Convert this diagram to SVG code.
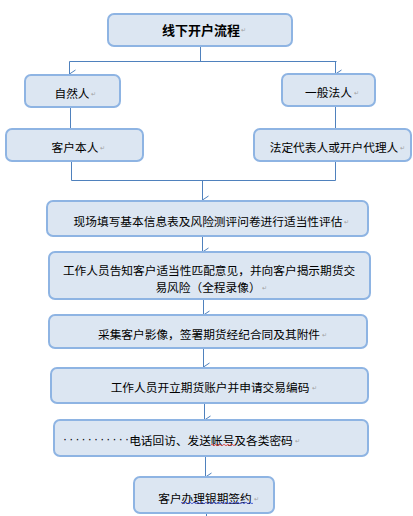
<svg xmlns="http://www.w3.org/2000/svg" width="413" height="516" viewBox="0 0 413 516">
<defs>
<style>
.box{fill:#DCE6F2;stroke:#8EB4E3;stroke-width:2}
.t{font-family:"Noto Sans CJK SC","Liberation Sans",sans-serif;font-size:11.7px;fill:#000;text-anchor:middle;dominant-baseline:central}
.b{font-weight:bold;font-size:13px}
.pm{font-family:"Liberation Sans",sans-serif;font-size:6px;fill:#A0A0A0}
.dots{font-family:"Liberation Sans",sans-serif;font-size:12px;fill:#000;letter-spacing:2.2px}
.c{fill:none;stroke:#4F81BD;stroke-width:1}
</style>
<marker id="ah" markerWidth="10" markerHeight="10" refX="5" refY="7" orient="auto-start-reverse" markerUnits="userSpaceOnUse" viewBox="0 0 10 10">
<polyline points="1,1 5,7 9,1" fill="none" stroke="#4F81BD" stroke-width="1"/>
</marker>
</defs>
<rect width="413" height="516" fill="#fff"/>
<g id="connectors">
<path class="c" d="M200.5,46 V61.5"/>
<path class="c" d="M69.5,61.5 H336.5"/>
<path class="c" d="M69.5,61.5 V74" marker-end="url(#ah)"/>
<path class="c" d="M335.5,61.5 V74" marker-end="url(#ah)"/>
<path class="c" d="M70.5,107 V129"/>
<path class="c" d="M335.5,106 V129"/>
<path class="c" d="M71.5,161 V180.5"/>
<path class="c" d="M335.5,161 V180.5"/>
<path class="c" d="M71.5,180.5 H335.5"/>
<path class="c" d="M202.5,180.5 V200" marker-end="url(#ah)"/>
<path class="c" d="M202.5,236 V252" marker-end="url(#ah)"/>
<path class="c" d="M203.5,299 V315" marker-end="url(#ah)"/>
<path class="c" d="M203.5,348 V367" marker-end="url(#ah)"/>
<path class="c" d="M204.5,403 V420" marker-end="url(#ah)"/>
<path class="c" d="M205.5,456 V477" marker-end="url(#ah)"/>
<path class="c" d="M206.5,513 V516"/>
</g>
<g id="title">
<rect class="box" x="108" y="14" width="184" height="32" rx="6"/>
<text class="t b" x="201" y="29.5">线下开户流程</text>
<text class="pm" x="241" y="32">↵</text>
</g>
<g id="ziranren">
<rect class="box" x="25" y="75" width="95" height="32" rx="6"/>
<text class="t" x="72" y="92">自然人</text>
<text class="pm" x="91" y="96">↵</text>
</g>
<g id="yibanfaren">
<rect class="box" x="282" y="74" width="93" height="32" rx="6"/>
<text class="t" x="328.5" y="91">一般法人</text>
<text class="pm" x="353.5" y="95">↵</text>
</g>
<g id="kehubenren">
<rect class="box" x="6" y="129" width="137" height="32" rx="6"/>
<text class="t" x="75" y="146">客户本人</text>
<text class="pm" x="100" y="150">↵</text>
</g>
<g id="fading">
<rect class="box" x="254" y="129" width="157" height="32" rx="6"/>
<text class="t" x="334" y="146">法定代表人或开户代理人</text>
<text class="pm" x="400" y="150">↵</text>
</g>
<g id="step1">
<rect class="box" x="47" y="201" width="321" height="35" rx="6"/>
<text class="t" x="208" y="220">现场填写基本信息表及风险测评问卷进行适当性评估</text>
<text class="pm" x="344" y="224">↵</text>
</g>
<g id="step2">
<rect class="box" x="49" y="252" width="321" height="47" rx="6"/>
<text class="t" x="209" y="269">工作人员告知客户适当性匹配意见，并向客户揭示期货交</text>
<text class="t" x="208" y="286">易风险（全程录像）</text>
<text class="pm" x="262" y="290">↵</text>
</g>
<g id="step3">
<rect class="box" x="49" y="315" width="318" height="33" rx="6"/>
<text class="t" x="209" y="333">采集客户影像，签署期货经纪合同及其附件</text>
<text class="pm" x="322" y="337">↵</text>
</g>
<g id="step4">
<rect class="box" x="51" y="368" width="317" height="35" rx="6"/>
<text class="t" x="210" y="386">工作人员开立期货账户并申请交易编码</text>
<text class="pm" x="311.5" y="390">↵</text>
</g>
<g id="step5">
<rect class="box" x="54" y="420" width="314" height="36" rx="6"/>
<text class="dots" x="63" y="443">···········</text>
<text class="t" x="211" y="439">电话回访、发送帐号及各类密码</text>
<text class="pm" x="295" y="443">↵</text>
<path d="M211,445 q1,-1.5 2,0 t2,0 t2,0 t2,0 t2,0 t2,0 t2,0 t2,0 t2,0 t2,0 t2,0 t2,0" fill="none" stroke="#E03030" stroke-width="0.8"/>
</g>
<g id="step6">
<rect class="box" x="134" y="477" width="140" height="36" rx="6"/>
<text class="t" x="205" y="497">客户办理银期签约</text>
<text class="pm" x="253.5" y="501">↵</text>
<path d="M181,503 q1,-1.5 2,0 t2,0 t2,0 t2,0 t2,0 t2,0 t2,0 t2,0 t2,0 t2,0 t2,0 t2,0 t2,0 t2,0 t2,0 t2,0 t2,0 t2,0 t2,0 t2,0 t2,0 t2,0 t2,0 t2,0 t2,0 t2,0 t2,0 t2,0 t2,0 t2,0 t2,0 t2,0 t2,0 t2,0 t2,0 t2,0" fill="none" stroke="#3040D0" stroke-width="0.8"/>
</g>
</svg>
